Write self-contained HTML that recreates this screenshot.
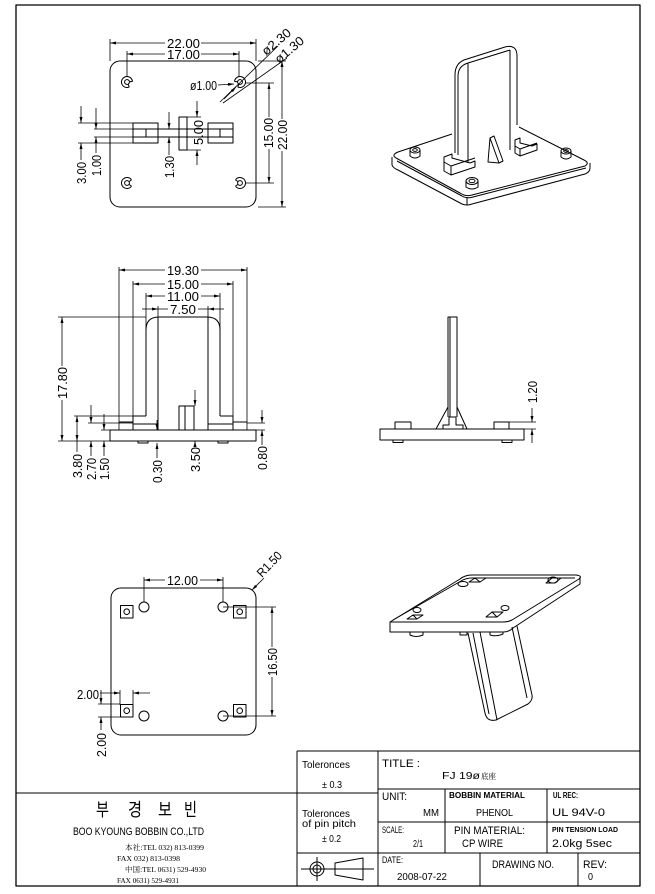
<!DOCTYPE html>
<html><head><meta charset="utf-8"><style>
html,body{margin:0;padding:0;background:#fff;}
svg{display:block;}
text{font-family:"Liberation Sans","Noto Sans CJK SC",sans-serif;fill:#000;stroke:none;}
.d{font-size:12.5px;}
.t{font-size:10.5px;}
.s{font-size:8px;font-weight:bold;}
.sr{font-family:"Liberation Serif","Noto Serif CJK SC",serif;font-size:7.5px;}
</style></head><body>
<svg width="655" height="894" viewBox="0 0 655 894" xmlns="http://www.w3.org/2000/svg">
<defs>
<marker id="a" viewBox="0 0 6 3" refX="6" refY="1.5" markerWidth="6" markerHeight="3" markerUnits="userSpaceOnUse" orient="auto-start-reverse" preserveAspectRatio="none"><path d="M0,0L6,1.5L0,3z" fill="#000"/></marker>
<g id="hole" fill="none" stroke="#000" stroke-width="1">
<path d="M4.5,-3.15A5.5,5.5 0 1 0 4.5,3.15"/>
<circle r="2.4"/>
<path d="M4.5,-3.15L2,-1.4M4.5,3.15L2,1.4"/>
</g>
</defs>
<rect x="0" y="0" width="655" height="894" fill="#fff"/>
<g fill="none" stroke="#000" stroke-width="1" stroke-linejoin="round">
<!-- frame -->
<rect x="16" y="5" width="624" height="881" stroke-width="1.3"/>

<!-- ===== TOP-LEFT VIEW ===== -->
<rect x="110" y="61" width="146" height="146" rx="10"/>
<use href="#hole" transform="translate(127,82) rotate(30)"/>
<use href="#hole" transform="translate(127,183)"/>
<use href="#hole" transform="translate(240,82) rotate(150)"/>
<use href="#hole" transform="translate(240,183) rotate(180)"/>
<g stroke-width="0.8">
<!-- 22.00 / 17.00 horizontal -->
<path d="M110,39V61M256,39V61M127,51V77M239,51V77"/>
<line x1="165" y1="43" x2="110" y2="43" marker-end="url(#a)"/>
<line x1="201" y1="43" x2="256" y2="43" marker-end="url(#a)"/>
<line x1="165" y1="54" x2="127" y2="54" marker-end="url(#a)"/>
<line x1="201" y1="54" x2="239" y2="54" marker-end="url(#a)"/>
<!-- dia leaders -->
<line x1="218" y1="85" x2="234" y2="84" marker-end="url(#a)"/>
<path d="M220,102L278,46M223,103L287,58"/>
<line x1="224" y1="99" x2="236" y2="87" marker-end="url(#a)"/>
<!-- 15.00 / 22.00 vertical -->
<path d="M245,83H274M245,183H274M258,61H286M258,207H286"/>
<line x1="269" y1="117" x2="269" y2="83" marker-end="url(#a)"/>
<line x1="269" y1="149" x2="269" y2="183" marker-end="url(#a)"/>
<line x1="282" y1="119" x2="282" y2="61" marker-end="url(#a)"/>
<line x1="282" y1="151" x2="282" y2="207" marker-end="url(#a)"/>
<!-- center feature ext -->
<path d="M78,123H133M78,143H133M94,129H133M94,137H133M187,117H201M187,150H201"/>
<line x1="81" y1="106" x2="81" y2="123" marker-end="url(#a)"/>
<line x1="81" y1="160" x2="81" y2="143" marker-end="url(#a)"/>
<line x1="96" y1="108" x2="96" y2="129" marker-end="url(#a)"/>
<line x1="96" y1="153" x2="96" y2="137" marker-end="url(#a)"/>
<line x1="169" y1="112" x2="169" y2="129" marker-end="url(#a)"/>
<line x1="169" y1="155" x2="169" y2="137" marker-end="url(#a)"/>
<line x1="197" y1="101" x2="197" y2="117" marker-end="url(#a)"/>
<line x1="197" y1="165" x2="197" y2="150" marker-end="url(#a)"/>
</g>
<path d="M133,129H233M133,137H233"/>
<rect x="133" y="123" width="25" height="20"/>
<path d="M146,129V137M220,129V137"/>
<rect x="208" y="123" width="25" height="20"/>
<rect x="179" y="117" width="8" height="33"/>

<!-- ===== TOP-RIGHT 3D ===== -->
<path d="M398,152L452,134M519,127L584,160Q590,163 585,166L472,195Q466,197 460,193L396,158Q391,155 398,152"/>
<path d="M392,157V165Q393,168 398,170L462,204Q467,206 472,204L585,174Q590,172 590,168V163"/>
<path d="M397,161L462,196Q467,199 473,197L586,168M467,197V205"/>
<path d="M455,153V75Q455,62 467,59L505,47Q517,44 517,56V125"/>
<path d="M458,155V76Q458,66 468,63L510,50M468,63V162M510,50V150"/>
<path d="M444,157L452,154L452,158L470,163L475,161L475,167L451,175L444,171Z M444,162L451,166L475,158M451,166V175"/>
<path d="M515,140L520,138V143L532,146L537,144V150L520,156L515,153Z M515,146L520,149L537,143M520,149V156"/>
<path d="M488,162L490,138L494,136L503,161L499,163Z M490,138L499,163"/>
<ellipse cx="415" cy="150" rx="5" ry="3"/><ellipse cx="415" cy="150" rx="2.3" ry="1.4"/><path d="M410,150V156Q415,160 420,156V150"/>
<ellipse cx="472" cy="181" rx="6" ry="3.5"/><ellipse cx="472" cy="181" rx="3" ry="1.7"/><path d="M466,181V187Q472,191 478,187V181"/>
<ellipse cx="566" cy="151" rx="5" ry="3"/><ellipse cx="566" cy="151" rx="2.3" ry="1.4"/><path d="M561,151V157Q566,161 571,157V151"/>

<!-- ===== FRONT VIEW (middle-left) ===== -->
<rect x="110" y="430" width="146" height="11"/>
<rect x="138" y="441" width="10" height="2"/>
<rect x="218" y="441" width="10" height="2"/>
<path d="M146,416V330Q146,317 159,317H207Q220,317 220,330V416"/>
<path d="M158,317V430M208,317V430"/>
<path d="M146,416H133V430M133,424H158M119,422H133"/>
<path d="M220,416H233V430M208,424H233M233,422H247"/>
<path d="M179,430V406H194V430M185,406V430"/>
<g stroke-width="0.8">
<path d="M119,267V430M247,267V430M133,281V416M233,281V416M146,293V330M220,293V330M158,306V317M208,306V317"/>
<line x1="165" y1="270" x2="119" y2="270" marker-end="url(#a)"/>
<line x1="201" y1="270" x2="247" y2="270" marker-end="url(#a)"/>
<line x1="165" y1="284" x2="133" y2="284" marker-end="url(#a)"/>
<line x1="201" y1="284" x2="233" y2="284" marker-end="url(#a)"/>
<line x1="165" y1="296" x2="146" y2="296" marker-end="url(#a)"/>
<line x1="201" y1="296" x2="220" y2="296" marker-end="url(#a)"/>
<line x1="142" y1="309" x2="158" y2="309" marker-end="url(#a)"/>
<line x1="224" y1="309" x2="208" y2="309" marker-end="url(#a)"/>
<path d="M158,309H168M198,309H208"/>
<path d="M58,317H146M58,441H110"/>
<line x1="62" y1="366" x2="62" y2="317" marker-end="url(#a)"/>
<line x1="62" y1="400" x2="62" y2="441" marker-end="url(#a)"/>
<path d="M74,416H146M88,423H133M101,430H110"/>
<line x1="77" y1="428" x2="77" y2="416" marker-end="url(#a)"/>
<line x1="77" y1="428" x2="77" y2="441" marker-end="url(#a)"/>
<path d="M77,441V452"/>
<line x1="91" y1="405" x2="91" y2="423" marker-end="url(#a)"/>
<line x1="91" y1="456" x2="91" y2="441" marker-end="url(#a)"/>
<line x1="104" y1="414" x2="104" y2="430" marker-end="url(#a)"/>
<line x1="104" y1="456" x2="104" y2="441" marker-end="url(#a)"/>
<line x1="157" y1="420" x2="157" y2="430" marker-end="url(#a)"/>
<line x1="157" y1="458" x2="157" y2="443" marker-end="url(#a)"/>
<line x1="195" y1="390" x2="195" y2="406" marker-end="url(#a)"/>
<line x1="195" y1="447" x2="195" y2="441" marker-end="url(#a)"/>
<path d="M247,423H265M256,430H265"/>
<line x1="262" y1="410" x2="262" y2="423" marker-end="url(#a)"/>
<line x1="262" y1="445" x2="262" y2="430" marker-end="url(#a)"/>
</g>

<!-- ===== SIDE VIEW ===== -->
<rect x="380" y="429" width="144" height="11"/>
<rect x="393" y="440" width="10" height="2.5"/>
<rect x="502" y="440" width="10" height="2.5"/>
<rect x="395" y="422" width="16" height="7"/>
<rect x="494" y="422" width="15" height="7"/>
<path d="M448,417V317H457V417M450,317V417"/>
<path d="M443,429V425H449V417H456V425H463V429"/>
<path d="M436,429L448,407M467,429L457,407"/>
<g stroke-width="0.8">
<path d="M509,422H536M509,429H536"/>
<line x1="532" y1="408" x2="532" y2="422" marker-end="url(#a)"/>
<line x1="532" y1="443" x2="532" y2="429" marker-end="url(#a)"/>
</g>

<!-- ===== BOTTOM-LEFT VIEW ===== -->
<rect x="111" y="588" width="145" height="147" rx="10"/>
<circle cx="144" cy="607" r="5"/><circle cx="223" cy="607" r="5"/>
<circle cx="144" cy="716" r="5"/><circle cx="223" cy="716" r="5"/>
<rect x="120.5" y="605.5" width="12.5" height="12.5"/><circle cx="126.7" cy="611.7" r="2.8"/>
<rect x="233.5" y="605.5" width="12.5" height="12.5"/><circle cx="239.7" cy="611.7" r="2.8"/>
<rect x="120.5" y="704.5" width="12.5" height="12.5"/><circle cx="126.7" cy="710.7" r="2.8"/>
<rect x="233.5" y="704.5" width="12.5" height="12.5"/><circle cx="239.7" cy="710.7" r="2.8"/>
<g stroke-width="0.8">
<path d="M144,577V602M223,577V602"/>
<line x1="165" y1="580" x2="144" y2="580" marker-end="url(#a)"/>
<line x1="200" y1="580" x2="223" y2="580" marker-end="url(#a)"/>
<line x1="264" y1="578" x2="252" y2="590" marker-end="url(#a)"/>
<path d="M223,607H276M223,716H276"/>
<line x1="272" y1="647" x2="272" y2="607" marker-end="url(#a)"/>
<line x1="272" y1="677" x2="272" y2="716" marker-end="url(#a)"/>
<path d="M120,690V705M133,690V705"/>
<line x1="100" y1="693" x2="120" y2="693" marker-end="url(#a)"/>
<line x1="150" y1="693" x2="133" y2="693" marker-end="url(#a)"/>
<path d="M98,704H120M98,717H120"/>
<line x1="101" y1="690" x2="101" y2="704" marker-end="url(#a)"/>
<line x1="101" y1="730" x2="101" y2="717" marker-end="url(#a)"/>
</g>

<!-- ===== BOTTOM-RIGHT 3D ===== -->
<path d="M390,622L460,579Q465,575 472,575L576,575Q583,576 579,579L512,620Q508,622 503,622Z"/>
<path d="M393,620L461,581Q466,578 472,578L575,578"/>
<path d="M390,622V632H503Q509,632 513,628L580,584V577"/>
<ellipse cx="417" cy="610" rx="4" ry="2.5"/>
<path d="M407,619L413,615H423L417,619Z M413,615L417,619"/>
<ellipse cx="463" cy="584" rx="5" ry="2.5"/>
<path d="M469,582L475,578H486L480,582Z M475,578L480,582"/>
<ellipse cx="553" cy="580" rx="5" ry="3"/>
<path d="M546,583L552,578H561L555,583Z"/>
<ellipse cx="505" cy="608" rx="4" ry="2.5"/>
<path d="M486,617L492,612H503L497,617Z M492,612L497,617"/>
<path d="M410,632V635Q416,638 423,635V632M460,632V635H467V632M490,632V635Q496,637 503,634V632"/>
<path d="M468,633L485,713Q487,722 496,720L528,704Q533,700 532,695L517,626"/>
<path d="M473,633L489,714M480,632L497,720M512,627L527,698"/>

<!-- ===== TITLE BLOCK ===== -->
<path d="M297,751H640M297,751V886M378,751V886M378,789H640M378,822H640M297,853H640M16,793H378M445,789V853M547,789V853M480,853V886M578,853V886"/>
<circle cx="317" cy="869" r="7"/><circle cx="317" cy="869" r="4"/>
<path d="M301,869H374M317,857V881"/>
<path d="M335,863L363,858V880L335,875Z"/>
</g>

<!-- ===== TEXT ===== -->
<g class="d">
<text x="167" y="48" textLength="33" lengthAdjust="spacingAndGlyphs">22.00</text>
<text x="167" y="59" textLength="33" lengthAdjust="spacingAndGlyphs">17.00</text>
<text x="190" y="90" textLength="27" lengthAdjust="spacingAndGlyphs">ø1.00</text>
<text transform="translate(266,56) rotate(-40)" textLength="34" lengthAdjust="spacingAndGlyphs">ø2.30</text>
<text transform="translate(279,64) rotate(-40)" textLength="34" lengthAdjust="spacingAndGlyphs">ø1.30</text>
<text transform="translate(273,148) rotate(-90)" textLength="30" lengthAdjust="spacingAndGlyphs">15.00</text>
<text transform="translate(287,150) rotate(-90)" textLength="30" lengthAdjust="spacingAndGlyphs">22.00</text>
<text transform="translate(86,184) rotate(-90)" textLength="22" lengthAdjust="spacingAndGlyphs">3.00</text>
<text transform="translate(101,176) rotate(-90)" textLength="21" lengthAdjust="spacingAndGlyphs">1.00</text>
<text transform="translate(174,178) rotate(-90)" textLength="22" lengthAdjust="spacingAndGlyphs">1.30</text>
<text transform="translate(203,145) rotate(-90)" textLength="25" lengthAdjust="spacingAndGlyphs">5.00</text>

<text x="167" y="275" textLength="32" lengthAdjust="spacingAndGlyphs">19.30</text>
<text x="167" y="289" textLength="32" lengthAdjust="spacingAndGlyphs">15.00</text>
<text x="167" y="301" textLength="32" lengthAdjust="spacingAndGlyphs">11.00</text>
<text x="170" y="314" textLength="26" lengthAdjust="spacingAndGlyphs">7.50</text>
<text transform="translate(67,399) rotate(-90)" textLength="32" lengthAdjust="spacingAndGlyphs">17.80</text>
<text transform="translate(82,478) rotate(-90)" textLength="24" lengthAdjust="spacingAndGlyphs">3.80</text>
<text transform="translate(96,480) rotate(-90)" textLength="22" lengthAdjust="spacingAndGlyphs">2.70</text>
<text transform="translate(109,480) rotate(-90)" textLength="22" lengthAdjust="spacingAndGlyphs">1.50</text>
<text transform="translate(162,483) rotate(-90)" textLength="23" lengthAdjust="spacingAndGlyphs">0.30</text>
<text transform="translate(200,472) rotate(-90)" textLength="25" lengthAdjust="spacingAndGlyphs">3.50</text>
<text transform="translate(267,470) rotate(-90)" textLength="24" lengthAdjust="spacingAndGlyphs">0.80</text>

<text transform="translate(537,403) rotate(-90)" textLength="22" lengthAdjust="spacingAndGlyphs">1.20</text>

<text x="167" y="585" textLength="31" lengthAdjust="spacingAndGlyphs">12.00</text>
<text transform="translate(262,578) rotate(-46)" textLength="30" lengthAdjust="spacingAndGlyphs">R1.50</text>
<text transform="translate(277,676) rotate(-90)" textLength="28" lengthAdjust="spacingAndGlyphs">16.50</text>
<text x="77" y="699" textLength="22" lengthAdjust="spacingAndGlyphs">2.00</text>
<text transform="translate(106,757) rotate(-90)" textLength="24" lengthAdjust="spacingAndGlyphs">2.00</text>
</g>

<!-- left block -->
<g style="font-family:'Liberation Sans','Noto Sans CJK KR','NanumGothic',sans-serif;font-size:18px;">
<text x="96" y="816" textLength="13" lengthAdjust="spacingAndGlyphs">부</text>
<text x="128" y="816" textLength="14" lengthAdjust="spacingAndGlyphs">경</text>
<text x="158" y="816" textLength="14" lengthAdjust="spacingAndGlyphs">보</text>
<text x="184" y="816" textLength="13" lengthAdjust="spacingAndGlyphs">빈</text>
</g>
<text x="73" y="835" style="font-size:11px" textLength="131" lengthAdjust="spacingAndGlyphs">BOO KYOUNG BOBBIN CO.,LTD</text>
<text class="sr" x="125" y="850" textLength="79" lengthAdjust="spacingAndGlyphs">本社:TEL  032) 813-0399</text>
<text class="sr" x="117" y="861" textLength="63" lengthAdjust="spacingAndGlyphs">FAX  032) 813-0398</text>
<text class="sr" x="125" y="872" textLength="81" lengthAdjust="spacingAndGlyphs">中国:TEL 0631) 529-4930</text>
<text class="sr" x="117" y="883" textLength="62" lengthAdjust="spacingAndGlyphs">FAX 0631) 529-4931</text>

<!-- title block text -->
<g class="t">
<text x="302" y="768" textLength="48" lengthAdjust="spacingAndGlyphs" style="font-size:10px">Toleronces</text>
<text x="322" y="788" textLength="20" lengthAdjust="spacingAndGlyphs" style="font-size:10px">± 0.3</text>
<text x="302" y="817" textLength="48" lengthAdjust="spacingAndGlyphs" style="font-size:10px">Toleronces</text>
<text x="302" y="827" textLength="54" lengthAdjust="spacingAndGlyphs" style="font-size:10px">of pin pitch</text>
<text x="322" y="842" textLength="19" lengthAdjust="spacingAndGlyphs" style="font-size:10px">± 0.2</text>
<text x="382" y="767" textLength="38" lengthAdjust="spacingAndGlyphs" style="font-size:11px">TITLE :</text>
<text x="442" y="779" textLength="38" lengthAdjust="spacingAndGlyphs">FJ 19ø</text>
<text x="481" y="779" textLength="15" lengthAdjust="spacingAndGlyphs" style="font-family:'Liberation Serif','Noto Serif CJK SC',serif;font-size:8px">底座</text>
<text x="382" y="800" textLength="25" lengthAdjust="spacingAndGlyphs" style="font-size:11px">UNIT:</text>
<text x="423" y="816" textLength="16" lengthAdjust="spacingAndGlyphs">MM</text>
<text x="449" y="798" textLength="76" lengthAdjust="spacingAndGlyphs" class="s">BOBBIN MATERIAL</text>
<text x="476" y="816" textLength="37" lengthAdjust="spacingAndGlyphs">PHENOL</text>
<text x="553" y="798" textLength="25" lengthAdjust="spacingAndGlyphs" class="s">UL REC:</text>
<text x="552" y="816" textLength="53" lengthAdjust="spacingAndGlyphs" style="font-size:11px">UL 94V-0</text>
<text x="382" y="833" textLength="22" lengthAdjust="spacingAndGlyphs" style="font-size:9px">SCALE:</text>
<text x="413" y="847" textLength="10" lengthAdjust="spacingAndGlyphs">2/1</text>
<text x="454" y="834" textLength="71" lengthAdjust="spacingAndGlyphs" style="font-size:11px">PIN MATERIAL:</text>
<text x="462" y="847" textLength="41" lengthAdjust="spacingAndGlyphs" style="font-size:11px">CP WIRE</text>
<text x="552" y="832" textLength="66" lengthAdjust="spacingAndGlyphs" class="s" style="font-size:7.5px">PIN TENSION LOAD</text>
<text x="552" y="847" textLength="60" lengthAdjust="spacingAndGlyphs" style="font-size:11px">2.0kg 5sec</text>
<text x="382" y="863" textLength="21" lengthAdjust="spacingAndGlyphs" style="font-size:9px">DATE:</text>
<text x="397" y="880" textLength="50" lengthAdjust="spacingAndGlyphs">2008-07-22</text>
<text x="492" y="868" textLength="62" lengthAdjust="spacingAndGlyphs" style="font-size:11px">DRAWING NO.</text>
<text x="583" y="868" textLength="24" lengthAdjust="spacingAndGlyphs" style="font-size:11px">REV:</text>
<text x="588" y="880" textLength="5" lengthAdjust="spacingAndGlyphs">0</text>
</g>
</svg>
</body></html>
